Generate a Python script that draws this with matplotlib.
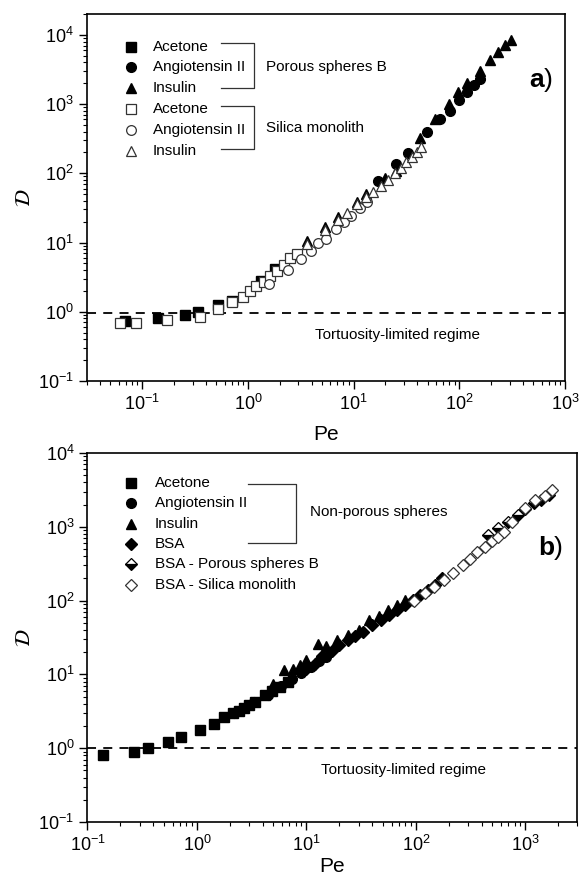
import numpy as np
import matplotlib
matplotlib.use("Agg")
import matplotlib.pyplot as plt
from matplotlib.ticker import LogLocator, LogFormatterSciNotation, NullFormatter

plt.rcParams['font.family'] = ['Liberation Sans', 'DejaVu Sans']
plt.rcParams['mathtext.fontset'] = 'custom'
plt.rcParams['mathtext.rm'] = 'Liberation Sans'
plt.rcParams['mathtext.it'] = 'Liberation Sans:italic'

# ---- panel a) data (Pe, D) ----
a_acetone_pb_pe = [0.068, 0.14, 0.255, 0.34, 0.52, 0.71, 1.32, 1.82]
a_acetone_pb_d = [0.74, 0.82, 0.89, 1.0, 1.24, 1.45, 2.78, 4.12]
a_angio_pb_pe = [17, 25, 33, 49, 66, 81, 100, 117, 137, 157]
a_angio_pb_d = [78, 136, 197, 400, 600, 800, 1150, 1500, 1900, 2300]
a_insulin_pb_pe = [3.6, 5.4, 7.1, 10.7, 13, 20, 25, 42, 59, 79, 98, 117, 157, 195, 233, 270, 305]
a_insulin_pb_d = [10.5, 16.5, 23, 39, 50, 85, 108, 320, 600, 1000, 1500, 2000, 3000, 4300, 5700, 7200, 8500]

a_acetone_sm_pe = [0.061, 0.087, 0.17, 0.35, 0.52, 0.71, 0.89, 1.04, 1.2, 1.41, 1.62, 1.9, 2.2, 2.5, 2.9]
a_acetone_sm_d = [0.68, 0.68, 0.76, 0.83, 1.09, 1.37, 1.62, 1.97, 2.32, 2.7, 3.3, 3.9, 4.8, 5.9, 6.9]
a_angio_sm_pe = [1.59, 2.38, 3.15, 3.91, 4.59, 5.48, 6.86, 8.05, 9.46, 11.5, 13.5]
a_angio_sm_d = [2.52, 4.0, 5.74, 7.6, 9.7, 11.3, 15.9, 19.8, 24.4, 31, 38]
a_insulin_sm_pe = [3.6, 5.4, 7.1, 8.7, 10.7, 13.0, 15.3, 18, 21, 24.8, 27.9, 31.5, 35.5, 40, 43.4]
a_insulin_sm_d = [9.5, 15.3, 21, 26.6, 36.6, 45, 54, 65, 80, 100, 120, 145, 174, 204, 236]

# ---- panel b) data (Pe, D) ----
b_acetone_pe = [0.14, 0.265, 0.356, 0.54, 0.72, 1.07, 1.42, 1.78, 2.13, 2.4, 2.7, 3.0, 3.4, 4.2, 4.9, 5.8, 6.8]
b_acetone_d = [0.80, 0.88, 1.01, 1.21, 1.43, 1.77, 2.15, 2.66, 2.97, 3.2, 3.5, 3.9, 4.2, 5.3, 6.0, 6.8, 8.0]
b_angio_pe = [2.2, 2.7, 3.3, 4.5, 5.9, 7.4, 9, 11, 13, 15]
b_angio_d = [3.0, 3.5, 4.2, 5.3, 6.9, 8.7, 10.5, 12.5, 15, 17]
b_insulin_pe = [5, 6.3, 7.5, 8.7, 10, 12.8, 15, 19, 24, 30, 37, 46, 56, 68, 80]
b_insulin_d = [7.5, 11.5, 11.8, 13.4, 15.5, 26, 24, 29, 34, 40, 54, 62, 75, 88, 102]
b_bsa_pe = [10, 12, 14, 17, 20, 24, 28, 33, 40, 48, 57, 68, 80, 95, 110, 130, 150, 175]
b_bsa_d = [12, 14, 18, 21, 25, 29, 33, 38, 46, 55, 64, 74, 87, 102, 118, 140, 165, 200]
b_bsa_pb_pe = [460, 560, 700, 850, 1000, 1200, 1400, 1650]
b_bsa_pb_d = [780, 950, 1150, 1450, 1750, 2100, 2300, 2700]
b_bsa_sm_pe = [97, 122, 148, 181, 218, 267, 310, 363, 430, 500, 560, 640, 760, 1000, 1215, 1500, 1740]
b_bsa_sm_d = [98, 125, 155, 190, 240, 300, 370, 450, 530, 640, 720, 850, 1150, 1800, 2300, 2600, 3200]

a_labels = ["Acetone", "Angiotensin II", "Insulin", "Acetone", "Angiotensin II", "Insulin"]
b_labels = ["Acetone", "Angiotensin II", "Insulin", "BSA", "BSA - Porous spheres B", "BSA - Silica monolith"]

fig = plt.figure(figsize=(5.79, 8.74), dpi=100)
ax1 = fig.add_axes([0.1503, 0.5641, 0.8256, 0.4199])
ax2 = fig.add_axes([0.1511, 0.0595, 0.8463, 0.4222])

filled = dict(color='black', markeredgecolor='black', linestyle='none')
opened = dict(markerfacecolor='white', markeredgecolor='#333333', markeredgewidth=0.9, linestyle='none')


def style_axis(ax, xlim, ylim, xpad):
    ax.set_xscale('log')
    ax.set_yscale('log')
    ax.set_xlim(*xlim)
    ax.set_ylim(*ylim)
    for a in (ax.xaxis, ax.yaxis):
        a.set_major_locator(LogLocator(base=10, numticks=20))
        a.set_minor_locator(LogLocator(base=10, subs=np.arange(2, 10), numticks=20))
        a.set_major_formatter(LogFormatterSciNotation())
        a.set_minor_formatter(NullFormatter())
    ax.tick_params(which='major', direction='out', length=6, width=1, labelsize=13)
    ax.tick_params(which='minor', direction='out', length=3, width=0.8)
    for s in ax.spines.values():
        s.set_linewidth(1.2)
    ax.set_xlabel('Pe', fontsize=15, labelpad=xpad)
    ax.set_ylabel(r'$\mathcal{D}$', fontsize=15, math_fontfamily='stix', labelpad=3)


def legend_rows(ax, markers, labels, y0, dy, xm, xt):
    for i, (mk, lab) in enumerate(zip(markers, labels)):
        y = y0 - i * dy
        ax.plot([xm], [y], transform=ax.transAxes, clip_on=False, **mk)
        ax.text(xt, y, lab, transform=ax.transAxes, fontsize=11, va='center')


def bracket(ax, x0, x1, y0, y1):
    ax.plot([x0, x1, x1, x0], [y0, y0, y1, y1], transform=ax.transAxes, color='#333333', lw=0.9)


# panel a)
style_axis(ax1, (0.03, 1000), (0.1, 2e4), 8)
ax1.axhline(0.95, color='black', lw=1.3, ls=(0, (5, 4)))
ax1.plot(a_acetone_pb_pe, a_acetone_pb_d, marker='s', ms=6.5, **filled)
ax1.plot(a_angio_pb_pe, a_angio_pb_d, marker='o', ms=7, **filled)
ax1.plot(a_insulin_pb_pe, a_insulin_pb_d, marker='^', ms=7.5, **filled)
ax1.plot(a_acetone_sm_pe, a_acetone_sm_d, marker='s', ms=6.5, **opened)
ax1.plot(a_angio_sm_pe, a_angio_sm_d, marker='o', ms=7, **opened)
ax1.plot(a_insulin_sm_pe, a_insulin_sm_d, marker='^', ms=7.5, **opened)

a_markers = [dict(marker='s', ms=6.5, **filled), dict(marker='o', ms=7, **filled),
             dict(marker='^', ms=7.5, **filled), dict(marker='s', ms=6.5, **opened),
             dict(marker='o', ms=7, **opened), dict(marker='^', ms=7.5, **opened)]
legend_rows(ax1, a_markers, a_labels, 0.911, 0.0566, 0.091, 0.138)
bracket(ax1, 0.281, 0.350, 0.920, 0.799)
bracket(ax1, 0.281, 0.350, 0.749, 0.631)
ax1.text(0.374, 0.855, 'Porous spheres B', transform=ax1.transAxes, fontsize=11, va='center')
ax1.text(0.374, 0.688, 'Silica monolith', transform=ax1.transAxes, fontsize=11, va='center')
ax1.text(0.649, 0.124, 'Tortuosity-limited regime', transform=ax1.transAxes, fontsize=11,
         ha='center', va='center')
ax1.text(0.955, 0.82, 'a', transform=ax1.transAxes, fontsize=19, fontweight='bold',
         ha='right', va='center')
ax1.text(0.955, 0.82, ')', transform=ax1.transAxes, fontsize=19, ha='left', va='center')

# panel b)
style_axis(ax2, (0.1, 3000), (0.1, 1e4), 1)
ax2.axhline(1.0, color='black', lw=1.3, ls=(0, (5, 4)))
ax2.plot(b_acetone_pe, b_acetone_d, marker='s', ms=6.5, **filled)
ax2.plot(b_angio_pe, b_angio_d, marker='o', ms=7, **filled)
ax2.plot(b_insulin_pe, b_insulin_d, marker='^', ms=7.5, **filled)
ax2.plot(b_bsa_pe, b_bsa_d, marker='D', ms=6.5, **filled)
half = dict(marker='D', ms=6.5, fillstyle='bottom', markerfacecolor='black',
            markerfacecoloralt='white', markeredgecolor='black', markeredgewidth=0.9, linestyle='none')
ax2.plot(b_bsa_pb_pe, b_bsa_pb_d, **half)
ax2.plot(b_bsa_sm_pe, b_bsa_sm_d, marker='D', ms=6.5, **opened)

b_markers = [dict(marker='s', ms=6.5, **filled), dict(marker='o', ms=7, **filled),
             dict(marker='^', ms=7.5, **filled), dict(marker='D', ms=6.5, **filled),
             half, dict(marker='D', ms=6.5, **opened)]
legend_rows(ax2, b_markers, b_labels, 0.919, 0.0552, 0.089, 0.138)
bracket(ax2, 0.327, 0.425, 0.916, 0.757)
ax2.text(0.455, 0.841, 'Non-porous spheres', transform=ax2.transAxes, fontsize=11, va='center')
ax2.text(0.644, 0.140, 'Tortuosity-limited regime', transform=ax2.transAxes, fontsize=11,
         ha='center', va='center')
ax2.text(0.952, 0.743, 'b', transform=ax2.transAxes, fontsize=19, fontweight='bold',
         ha='right', va='center')
ax2.text(0.952, 0.743, ')', transform=ax2.transAxes, fontsize=19, ha='left', va='center')

fig.savefig('out.png', dpi=100)
